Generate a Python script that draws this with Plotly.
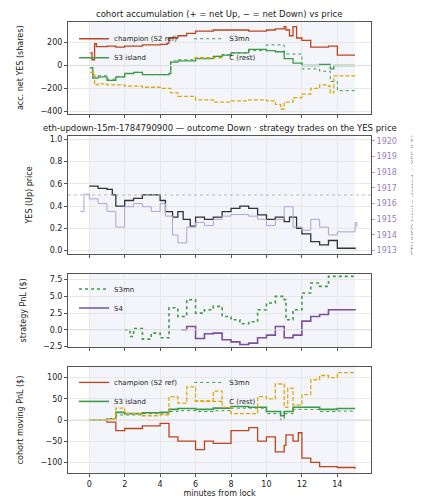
import plotly.graph_objects as go

# panel 1: accumulated net YES shares
champ_acc_t = [0.05, 0.15, 0.3, 0.4, 1, 1.5, 2, 3, 4, 4.4, 4.5, 5, 5.5, 6, 7, 8, 9, 10, 10.5, 11, 11.1, 11.3, 11.5, 11.7, 12, 12.5, 13, 13.5, 14, 15]
champ_acc = [110, 50, 190, 165, 170, 160, 170, 180, 185, 195, 240, 260, 280, 300, 310, 310, 300, 310, 320, 340, 310, 260, 340, 240, 220, 160, 160, 170, 90, 90]
s3i_acc_t = [0.05, 0.2, 0.5, 1, 1.5, 2, 2.5, 3, 4, 4.5, 4.6, 5, 6, 7, 7.5, 8, 9, 10, 10.5, 11, 11.5, 12, 13, 13.6, 13.8, 15]
s3i_acc = [-20, -110, -100, -130, -100, -70, -60, -80, -80, -70, 30, 40, 60, 80, 90, 110, 140, 130, 120, 60, 20, 0, 10, -30, 0, 0]
s3mn_acc_t = [0.05, 0.2, 0.5, 1, 1.5, 2, 2.5, 3, 4, 4.5, 4.6, 5, 6, 7, 7.5, 8, 9, 10, 10.5, 11, 12, 13, 13.6, 14, 15]
s3mn_acc = [-20, -100, -90, -120, -100, -70, -60, -80, -80, -70, 40, 50, 70, 80, 95, 110, 130, 180, 180, 100, -30, -50, -140, -220, -220]
c_acc_t = [0.05, 0.3, 0.5, 1, 2, 3, 4, 4.5, 4.6, 5, 6, 7, 8, 9, 10, 10.5, 10.8, 11, 11.5, 12, 12.5, 13, 13.5, 13.6, 13.8, 15]
c_acc = [-60, -170, -160, -170, -180, -190, -200, -200, -240, -270, -300, -320, -310, -300, -310, -340, -380, -320, -280, -250, -200, -170, -180, -240, -90, -90]

# panel 2: YES price and ETH
yes_t = [0, 0.5, 1, 1.3, 1.5, 2, 2.5, 3, 3.5, 4, 4.3, 4.7, 5, 5.3, 5.7, 6, 6.5, 7, 7.5, 8, 8.5, 9, 9.5, 10, 10.5, 11, 11.3, 11.7, 12, 12.5, 13, 13.5, 14, 15]
yes_px = [0.58, 0.56, 0.55, 0.5, 0.4, 0.45, 0.47, 0.5, 0.5, 0.45, 0.35, 0.3, 0.35, 0.28, 0.22, 0.3, 0.28, 0.3, 0.35, 0.38, 0.4, 0.38, 0.32, 0.28, 0.3, 0.26, 0.3, 0.2, 0.15, 0.08, 0.05, 0.09, 0.02, 0.01]
eth_t = [-0.5, -0.3, 0, 0.5, 1, 1.5, 2, 2.5, 3, 3.5, 4, 4.3, 4.7, 5, 5.5, 6, 6.5, 7, 7.5, 8, 9, 9.5, 10, 10.5, 11, 11.5, 12, 12.5, 13, 13.5, 14, 14.8, 15, 15.1]
eth_px = [1915.5, 1916.6, 1916.3, 1916, 1915.5, 1914.5, 1915.8, 1916, 1915.8, 1915.5, 1916, 1915.2, 1914, 1913.5, 1914.5, 1914.8, 1914.6, 1915, 1915.2, 1915.3, 1915.2, 1915, 1914.6, 1915, 1915.8, 1914.5, 1914.3, 1915, 1914.5, 1914, 1914.2, 1914.2, 1914.8, 1914.5]
trade_t = [2.0, 5.2]
trade_px = [0.46, 0.25]
trade_lbl = ["S3mn BUY Down @0.54", "S4 BUY Down @0.75"]

# panel 3: strategy PnL
s3mn_pnl_t = [2, 2.3, 2.5, 3, 3.5, 4, 4.5, 5, 5.5, 6, 6.5, 7, 7.5, 8, 8.5, 9, 9.5, 10, 10.5, 11, 11.1, 11.5, 12, 12.5, 13, 13.5, 15]
s3mn_pnl = [0, -1, 0.2, -1.4, -0.5, -1.2, 3.3, 2, 4.5, 2.5, 3, 3.5, 2, 1.5, 0.9, 1.2, 3, 4, 5, 4.5, 1.5, 3, 5.5, 7, 6.5, 8, 8]
s4_pnl_t = [5.2, 5.5, 6, 6.5, 7, 7.5, 8, 8.5, 9, 9.5, 10, 10.5, 11, 11.5, 12, 12.5, 13, 13.5, 15]
s4_pnl = [0, 0.5, -1.3, -0.6, -0.5, -1.5, -1.8, -2.2, -2, -1.2, -0.8, 0.5, -1.2, -0.8, 1.3, 2, 2.3, 3, 3.1]

# panel 4: cohort moving PnL
champ_pnl_t = [0, 0.5, 1, 1.5, 2, 3, 4, 4.5, 5, 6, 6.5, 7, 8, 9, 9.5, 10, 10.5, 11, 11.1, 11.5, 11.8, 12, 12.5, 13, 14, 15]
champ_pnl = [0, -1, -5, -25, -20, -14, -8, -40, -50, -70, -50, -55, -25, -18, -50, -40, -75, -60, -35, -50, -30, -90, -100, -110, -112, -115]
s3i_pnl_t = [0, 1, 1.5, 2, 3, 4, 4.5, 5, 6, 7, 8, 9, 10, 10.8, 11, 11.5, 12, 13, 14, 15]
s3i_pnl = [0, 3, 18, 15, 17, 18, 25, 27, 25, 28, 32, 30, 20, 10, 20, 30, 30, 25, 27, 27]
s3mn_mv_t = [0, 1, 1.5, 2, 3, 4, 4.5, 5, 6, 7, 8, 9, 10, 10.8, 11, 11.5, 12, 13, 14, 15]
s3mn_mv = [0, 2, 12, 12, 15, 14, 20, 22, 20, 22, 28, 28, 15, 0, 15, 25, 25, 20, 21, 21]
c_pnl_t = [0, 1, 1.5, 2, 3, 4, 4.5, 5, 5.5, 6, 7, 7.5, 8, 9, 9.5, 10, 10.5, 11, 11.2, 11.5, 12, 12.5, 13, 13.5, 14, 15]
c_pnl = [0, 3, 28, 15, 10, 12, 55, 40, 78, 45, 68, 30, 15, 15, 55, 50, 85, 30, 75, 35, 60, 95, 105, 100, 112, 112]

RED = "#c0431c"
GREEN = "#3d9a46"
GOLD = "#e3a70c"
PURPLE = "#7b4fa0"
LPURPLE = "#b3a0d6"
DASH = "4px,2px"

fig = go.Figure()

def line(x, y, name, color, dash="solid", width=1.3, ax="", yax=None, legend=None, show=True):
    fig.add_trace(go.Scatter(x=x, y=y, name=name, mode="lines", line_shape="hv",
                             line=dict(color=color, dash=dash, width=width),
                             xaxis="x" + ax, yaxis="y" + (yax if yax else ax),
                             legend=legend, showlegend=show))

line(champ_acc_t, champ_acc, "champion (S2 ref)", RED, legend="legend")
line(s3i_acc_t, s3i_acc, "S3 island", GREEN, legend="legend")
line(s3mn_acc_t, s3mn_acc, "S3mn", GREEN, "dot", 1, legend="legend2")
line(c_acc_t, c_acc, "C (rest)", GOLD, DASH, legend="legend2")

line(eth_t, eth_px, "ETH", LPURPLE, width=1, ax="2", yax="5", show=False)
line(yes_t, yes_px, "YES", "#333333", ax="2", show=False)
fig.add_trace(go.Scatter(x=trade_t, y=trade_px, mode="markers+text", text=trade_lbl,
                         textposition="middle right",
                         textfont=dict(size=7, color=[GREEN, PURPLE], family="DejaVu Sans"),
                         marker=dict(symbol="triangle-up", size=10, color=[GREEN, PURPLE]),
                         xaxis="x2", yaxis="y5", showlegend=False))

line(s3mn_pnl_t, s3mn_pnl, "S3mn", GREEN, "dot", 1.6, ax="3", legend="legend3")
line(s4_pnl_t, s4_pnl, "S4", PURPLE, width=1.6, ax="3", legend="legend3")

line(champ_pnl_t, champ_pnl, "champion (S2 ref)", RED, ax="4", legend="legend4")
line(s3i_pnl_t, s3i_pnl, "S3 island", GREEN, width=1.6, ax="4", legend="legend4")
line(s3mn_mv_t, s3mn_mv, "S3mn", GREEN, "dot", 1, ax="4", legend="legend5")
line(c_pnl_t, c_pnl, "C (rest)", GOLD, DASH, ax="4", legend="legend5")

doms = {"": [0.797, 1.0], "2": [0.486, 0.747], "3": [0.279, 0.442], "4": [0.0, 0.235]}
ax_style = dict(showline=True, mirror=True, linecolor="#555", linewidth=1, ticks="outside",
                ticklen=3, tickcolor="#555", gridcolor="#e8e8e8", zeroline=False,
                tickfont=dict(size=8))
shapes = []
for k, d in doms.items():
    fig.update_layout(**{
        "xaxis" + k: dict(ax_style, domain=[0, 1], range=[-1.2, 15.9], anchor="y" + k,
                          showticklabels=(k == "4"), dtick=2,
                          title=dict(text="minutes from lock", font=dict(size=8), standoff=2) if k == "4" else None),
        "yaxis" + k: dict(ax_style, domain=d, anchor="x" + k),
    })
    shapes.append(dict(type="rect", xref="x" + k, yref="y" + k + " domain", x0=0, x1=15, y0=0, y1=1,
                       fillcolor="#eef1f8", opacity=0.7, line_width=0, layer="below"))
    if k != "2":
        shapes.append(dict(type="line", xref="x" + k + " domain", yref="y" + k, x0=0, x1=1, y0=0, y1=0,
                           line=dict(color="#dddddd", width=1)))
shapes.append(dict(type="line", xref="x2 domain", yref="y2", x0=0, x1=1, y0=0.5, y1=0.5,
                   line=dict(color="#bbbbbb", width=1, dash="dot")))

leg = dict(yanchor="top", bgcolor="rgba(255,255,255,0)", font=dict(size=7), itemwidth=30,
           tracegroupgap=0)
fig.update_layout(
    yaxis=dict(range=[-420, 380], dtick=200, title=dict(text="acc. net YES (shares)", font=dict(size=8))),
    yaxis2=dict(range=[-0.03, 1.03], dtick=0.2, tickformat=".1f", title=dict(text="YES (Up) price", font=dict(size=8))),
    yaxis3=dict(range=[-2.6, 8.4], tickvals=[-2.5, 0, 2.5, 5, 7.5], tickformat=".1f",
                title=dict(text="strategy PnL ($)", font=dict(size=8))),
    yaxis4=dict(range=[-125, 125], dtick=50, title=dict(text="cohort moving PnL ($)", font=dict(size=8))),
    yaxis5=dict(overlaying="y2", side="right", anchor="x2", range=[1912.8, 1920.3], dtick=1,
                showgrid=False, ticks="outside", ticklen=3, tickcolor=LPURPLE,
                tickfont=dict(size=8, color="#9a80c0"),
                title=dict(text="ETH/USD (strike dotted = YES 0.5)", font=dict(size=7, color="#9a80c0"))),
    shapes=shapes,
    annotations=[
        dict(text="cohort accumulation (+ = net Up, − = net Down) vs price", xref="paper", yref="paper",
             x=0.5, y=1.0, yanchor="bottom", yshift=1, showarrow=False, font=dict(size=8.5)),
        dict(text="eth-updown-15m-1784790900 — outcome Down · strategy trades on the YES price",
             xref="paper", yref="paper", x=0.5, y=0.747, yanchor="bottom", yshift=1,
             showarrow=False, font=dict(size=8.5)),
    ],
    legend=dict(leg, x=0.02, y=0.995),
    legend2=dict(leg, x=0.4, y=0.995),
    legend3=dict(leg, x=0.02, y=0.44),
    legend4=dict(leg, x=0.02, y=0.233),
    legend5=dict(leg, x=0.4, y=0.233),
    font=dict(family="DejaVu Sans", size=8, color="#222"),
    paper_bgcolor="white", plot_bgcolor="white",
    width=421, height=500,
    margin=dict(l=40, r=36, t=14, b=30),
)

fig.write_html("out.html")
